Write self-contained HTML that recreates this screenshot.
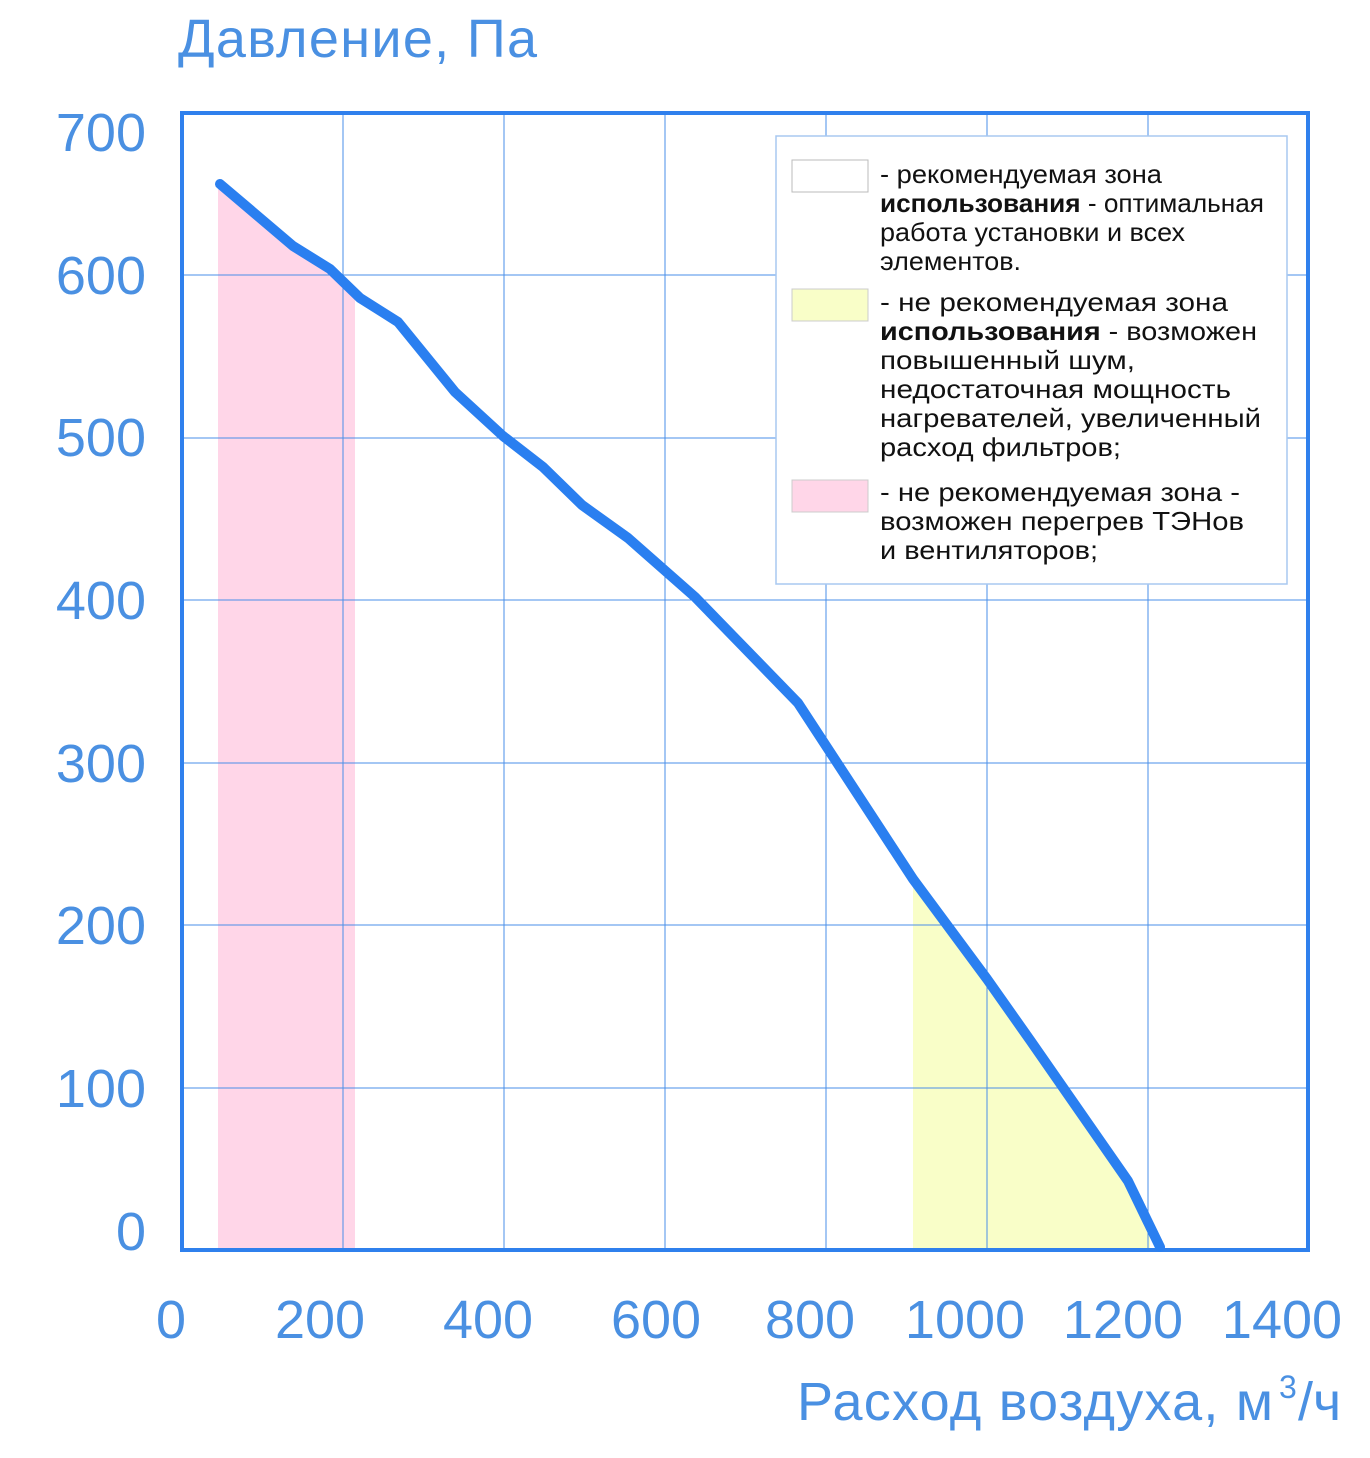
<!DOCTYPE html>
<html><head><meta charset="utf-8"><style>
body{margin:0;background:#fff;}
svg text{font-family:"Liberation Sans",sans-serif;}
</style></head><body>
<svg width="1370" height="1453" xmlns="http://www.w3.org/2000/svg">
<rect width="1370" height="1453" fill="#fff"/>
<polygon points="218,183 220,184 293,246 330,269 355,292 355,1250 218,1250" fill="#ffd6e8"/>
<polygon points="913,879 987,979 1030,1040 1128,1181 1150,1228 1150,1250 913,1250" fill="#f9fec8"/>
<g stroke="#4a8fe8" stroke-width="1">
<line x1="343" y1="113" x2="343" y2="1250"/><line x1="504" y1="113" x2="504" y2="1250"/>
<line x1="665" y1="113" x2="665" y2="1250"/><line x1="826" y1="113" x2="826" y2="1250"/>
<line x1="987" y1="113" x2="987" y2="1250"/><line x1="1148" y1="113" x2="1148" y2="1250"/>
<line x1="182" y1="275" x2="1308" y2="275"/><line x1="182" y1="438" x2="1308" y2="438"/>
<line x1="182" y1="600" x2="1308" y2="600"/><line x1="182" y1="763" x2="1308" y2="763"/>
<line x1="182" y1="925" x2="1308" y2="925"/><line x1="182" y1="1088" x2="1308" y2="1088"/>
</g>
<rect x="182" y="113" width="1126" height="1137" fill="none" stroke="#2f80ed" stroke-width="4"/>
<polyline points="220,184 293,246 330,269 360,298 398,322 455,392 503,436 543,467 582,505 628,538 695,597 798,703 913,879 987,979 1030,1040 1128,1181 1160,1247" fill="none" stroke="#2a7ff0" stroke-width="10" stroke-linejoin="round" stroke-linecap="round"/>
<rect x="776" y="136" width="511" height="448" fill="#fff" stroke="#a8c8f0" stroke-width="1.5"/>
<rect x="792" y="160" width="76" height="32" fill="#fff" stroke="#bbb"/>
<rect x="792" y="289" width="76" height="32" fill="#f9fec8" stroke="#ccc"/>
<rect x="792" y="480" width="76" height="32" fill="#ffd6e8" stroke="#ccc"/>
<g font-size="26" fill="#111" lengthAdjust="spacingAndGlyphs">
<text x="880" y="183" textLength="282" lengthAdjust="spacingAndGlyphs">- рекомендуемая зона</text>
<text x="880" y="212" textLength="384" lengthAdjust="spacingAndGlyphs"><tspan font-weight="bold">использования</tspan> - оптимальная</text>
<text x="880" y="241" textLength="305" lengthAdjust="spacingAndGlyphs">работа установки и всех</text>
<text x="880" y="270" textLength="141" lengthAdjust="spacingAndGlyphs">элементов.</text>
<text x="880" y="311" textLength="348" lengthAdjust="spacingAndGlyphs">- не рекомендуемая зона</text>
<text x="880" y="340" textLength="377" lengthAdjust="spacingAndGlyphs"><tspan font-weight="bold">использования</tspan> - возможен</text>
<text x="880" y="369" textLength="255" lengthAdjust="spacingAndGlyphs">повышенный шум,</text>
<text x="880" y="398" textLength="351" lengthAdjust="spacingAndGlyphs">недостаточная мощность</text>
<text x="880" y="427" textLength="381" lengthAdjust="spacingAndGlyphs">нагревателей, увеличенный</text>
<text x="880" y="456" textLength="241" lengthAdjust="spacingAndGlyphs">расход фильтров;</text>
<text x="880" y="501" textLength="360" lengthAdjust="spacingAndGlyphs">- не рекомендуемая зона -</text>
<text x="880" y="530" textLength="364" lengthAdjust="spacingAndGlyphs">возможен перегрев ТЭНов</text>
<text x="880" y="559" textLength="218" lengthAdjust="spacingAndGlyphs">и вентиляторов;</text>
</g>
<g font-size="54" fill="#4a90e2">
<text x="178" y="57" textLength="359">Давление, Па</text>
<g text-anchor="end">
<text x="146" y="151">700</text><text x="146" y="294">600</text><text x="146" y="456">500</text>
<text x="146" y="619">400</text><text x="146" y="782">300</text><text x="146" y="944">200</text>
<text x="146" y="1107">100</text><text x="146" y="1250">0</text>
</g>
<g text-anchor="middle">
<text x="171" y="1338">0</text><text x="320" y="1338">200</text><text x="488" y="1338">400</text>
<text x="656" y="1338">600</text><text x="810" y="1338">800</text><text x="965" y="1338">1000</text>
<text x="1123" y="1338">1200</text><text x="1282" y="1338">1400</text>
</g>
<text x="797" y="1420" textLength="476">Расход воздуха, м</text>
<text x="1279" y="1398" font-size="32">3</text>
<text x="1298" y="1420">/ч</text>
</g>
</svg>
</body></html>
